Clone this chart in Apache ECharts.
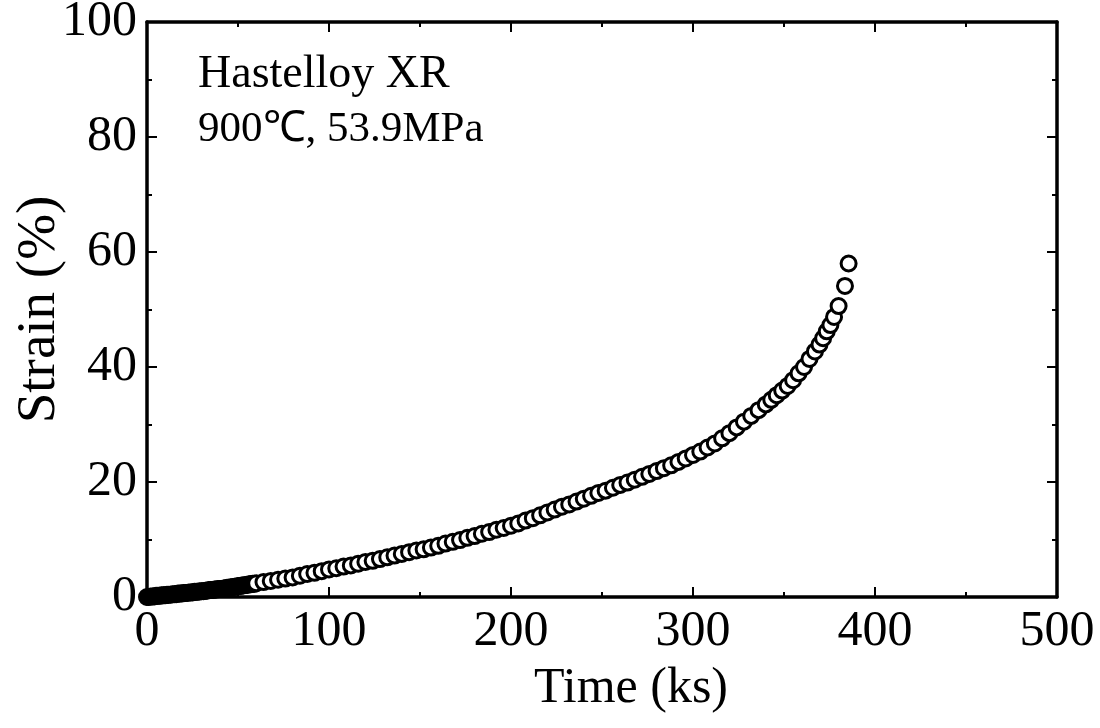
<!DOCTYPE html>
<html>
<head>
<meta charset="utf-8">
<script src="https://cdn.jsdelivr.net/npm/echarts@6/dist/echarts.min.js"></script>
<style>
  html, body { margin: 0; padding: 0; background: #fff; }
  #chart { width: 1100px; height: 728px; }
</style>
</head>
<body>
<div id="chart"></div>
<script>
// creep curve: time (ks) and strain (%)
const times = [
  0, 1, 2, 3, 4, 5, 6, 7, 8, 9, 10, 11, 12, 13, 14, 15, 16, 17, 18, 19, 20,
  21, 22, 23, 24, 25, 26, 27, 28, 29, 30, 31, 32, 33, 34, 35, 36, 37, 38, 39, 40,
  41, 42, 43, 44, 45, 46, 47, 48, 49, 50, 51, 52, 53, 54, 55, 56, 57, 58, 59, 60,
  64, 68, 72, 76, 80, 84, 88, 92, 96, 100, 104, 108, 112, 116, 120,
  124, 128, 132, 136, 140, 144, 148, 152, 156, 160, 164, 168, 172, 176, 180,
  184, 188, 192, 196, 200, 204, 208, 212, 216, 220, 224, 228, 232, 236, 240,
  244, 248, 252, 256, 260, 264, 268, 272, 276, 280, 284, 288, 292, 296, 300,
  304, 308, 312, 316, 320, 324, 328, 332, 336, 340,
  343, 346, 349, 352, 355, 358, 361, 364, 367, 369.5, 371.5, 373.5, 375.5, 377.5,
  380, 383.5, 385.5
];
const strain = [
  0.0, 0.0, 0.1, 0.1, 0.1, 0.2, 0.2, 0.2, 0.3, 0.3, 0.3, 0.4, 0.4, 0.4, 0.5, 0.5, 0.5, 0.6, 0.6, 0.6, 0.7,
  0.7, 0.7, 0.8, 0.8, 0.8, 0.9, 0.9, 0.9, 1.0, 1.0, 1.0, 1.1, 1.1, 1.2, 1.2, 1.2, 1.3, 1.3, 1.4, 1.4,
  1.4, 1.5, 1.5, 1.6, 1.6, 1.7, 1.7, 1.8, 1.8, 1.9, 1.9, 2.0, 2.0, 2.1, 2.1, 2.2, 2.2, 2.3, 2.3, 2.4,
  2.6, 2.8, 3.0, 3.2, 3.4, 3.7, 4.0, 4.2, 4.5, 4.8, 5.0, 5.3, 5.5, 5.8, 6.1,
  6.3, 6.6, 6.9, 7.2, 7.5, 7.8, 8.1, 8.3, 8.6, 8.9, 9.3, 9.6, 9.9, 10.3, 10.6,
  11.0, 11.3, 11.7, 12.0, 12.4, 12.8, 13.3, 13.7, 14.2, 14.7, 15.2, 15.7, 16.1, 16.6, 17.1,
  17.6, 18.1, 18.5, 19.0, 19.5, 19.9, 20.4, 20.9, 21.4, 21.9, 22.4, 22.9, 23.5, 24.1, 24.7,
  25.3, 26.0, 26.7, 27.6, 28.5, 29.5, 30.5, 31.5, 32.5, 33.5,
  34.3, 35.1, 35.9, 36.7, 37.7, 38.9, 40.0, 41.4, 42.7, 43.9, 45.0, 46.2, 47.3, 48.7,
  50.6, 54.1, 58.0
];
const noteLines = ['Hastelloy XR', '900℃, 53.9MPa'];

const font = '"Liberation Serif", "Times New Roman", serif';
const chart = echarts.init(document.getElementById('chart'));

const pts = times.map((t, i) => [t, strain[i]]);

function axisBase(show) {
  return {
    min: 0,
    axisLine: { show: true, onZero: false, lineStyle: { color: '#000', width: 3.5 } },
    axisTick: { show: true, inside: true, length: 10, lineStyle: { color: '#000', width: 2 } },
    minorTick: { show: true, splitNumber: 2, length: 5, lineStyle: { color: '#000', width: 2 } },
    splitLine: { show: false },
    axisLabel: {
      show: show, color: '#000', fontFamily: font, fontSize: 50, margin: 10
    }
  };
}

chart.setOption({
  backgroundColor: '#fff',
  animation: false,
  grid: { left: 147, right: 43, top: 22, bottom: 131, containLabel: false, outerBoundsMode: 'none' },
  xAxis: [
    Object.assign(axisBase(true), {
      type: 'value', max: 500, interval: 100, position: 'bottom',
      name: 'Time (ks)', nameLocation: 'middle', nameGap: 67, nameMoveOverlap: false,
      nameTextStyle: { color: '#000', fontFamily: font, fontSize: 50, padding: [0, 0, 0, 58] }
    }),
    Object.assign(axisBase(false), { type: 'value', max: 500, interval: 100, position: 'top' })
  ],
  yAxis: [
    Object.assign(axisBase(true), {
      type: 'value', max: 100, interval: 20, position: 'left',
      name: 'Strain (%)', nameLocation: 'middle', nameGap: 80, nameMoveOverlap: false,
      nameTextStyle: { color: '#000', fontFamily: font, fontSize: 55 }
    }),
    Object.assign(axisBase(false), { type: 'value', max: 100, interval: 20, position: 'right' })
  ],
  graphic: noteLines.map((txt, i) => ({
    type: 'text', left: 198, top: 52 + i * 56,
    style: { text: txt, fill: '#000', font: (i === 0 ? 46 : 43) + 'px ' + font }
  })),
  series: [{
    type: 'scatter',
    data: pts,
    symbol: 'circle',
    symbolSize: 15,
    itemStyle: { color: '#fff', borderColor: '#000', borderWidth: 3, opacity: 1 }
  }]
});
</script>
</body>
</html>
